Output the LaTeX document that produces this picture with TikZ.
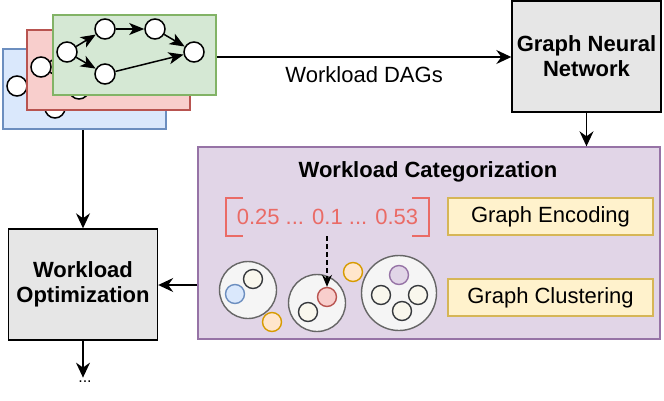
\documentclass[tikz,border=0pt]{standalone}
\usepackage{fontspec}
\setmainfont{Liberation Sans}
\usetikzlibrary{arrows.meta,calc}
\definecolor{bfill}{HTML}{DAE8FC}\definecolor{bline}{HTML}{6C8EBF}
\definecolor{rfill}{HTML}{F8CECC}\definecolor{rline}{HTML}{B85450}
\definecolor{gfill}{HTML}{D5E8D4}\definecolor{gline}{HTML}{82B366}
\definecolor{pfill}{HTML}{E1D5E7}\definecolor{pline}{HTML}{9673A6}
\definecolor{yfill}{HTML}{FFF2CC}\definecolor{yline}{HTML}{D6B656}
\definecolor{cfill}{HTML}{F5F5F5}\definecolor{cline}{HTML}{666666}
\definecolor{dfill}{HTML}{F9F7ED}\definecolor{dline}{HTML}{36393D}
\definecolor{ofill}{HTML}{FFE6CC}\definecolor{oline}{HTML}{D79B00}
\definecolor{vecred}{HTML}{EA6B66}
\definecolor{boxgray}{HTML}{E6E6E6}
\tikzset{
  big/.style={font=\fontsize{22}{25}\selectfont},
  gnode/.style={circle,draw=black,fill=white,line width=1.5pt,minimum size=20pt,inner sep=0pt},
  garrow/.style={line width=1.5pt,-{Stealth[length=15pt,width=12pt,inset=4pt]}},
  arr/.style={line width=1.4pt,-{Stealth[length=15pt,width=14pt,inset=5pt]}},
  graybox/.style={draw=black,fill=boxgray,line width=1.4pt,align=center,big,font=\fontsize{22}{25}\selectfont\bfseries},
  ybox/.style={draw=yline,fill=yfill,line width=1.4pt,big,minimum width=205pt,minimum height=37pt,inner sep=0pt},
  cluster/.style={circle,draw=cline,fill=cfill,line width=1.4pt,inner sep=0pt},
  dot/.style={circle,line width=1.4pt,minimum size=19pt,inner sep=0pt},
  ddot/.style={dot,draw=dline,fill=dfill},
}
\newcommand\dagcopy[5]{%
  \begin{scope}[shift={(#2,#3)}]
    \node[draw=#5,fill=#4,line width=2pt,minimum width=163pt,minimum height=80pt,inner sep=0pt,anchor=north west] (#1box) at (52,14) {};
    \node[gnode] (#1A) at (67,52) {};
    \node[gnode] (#1B) at (105,29) {};
    \node[gnode] (#1C) at (155,29) {};
    \node[gnode] (#1D) at (194,52) {};
    \node[gnode] (#1E) at (105,74) {};
    \draw[garrow] (#1A) -- (#1B);
    \draw[garrow] (#1B) -- (#1C);
    \draw[garrow] (#1C) -- (#1D);
    \draw[garrow] (#1A) -- (#1E);
    \draw[garrow] (#1E) -- (#1D);
  \end{scope}}
\begin{document}
\begin{tikzpicture}[x=1pt,y=-1pt]
\useasboundingbox (0,0) rectangle (664,400);
% stacked DAGs
\dagcopy{b}{-50}{34}{bfill}{bline}
\dagcopy{r}{-26}{15}{rfill}{rline}
\dagcopy{g}{0}{0}{gfill}{gline}
% GNN
\node[graybox,minimum width=149pt,minimum height=111pt,inner sep=0pt] (gnn) at (586.5,56.5) {Graph Neural\\Network};
\draw[arr] (gbox.east |- 0,57) -- (gnn.west |- 0,57) node[midway,below=6pt,big] (dags) {Workload DAGs};
% Categorization box
\node[draw=pline,fill=pfill,line width=1.4pt,minimum width=462pt,minimum height=192pt,inner sep=0pt] (cat) at (429,243) {};
\node[big,font=\fontsize{22}{25}\selectfont\bfseries] (cattitle) at (428,172) {Workload Categorization};
\draw[arr] (gnn.south) -- (gnn.south |- cat.north);
% vector
\node[big,text=vecred,minimum width=203pt,minimum height=38pt,inner sep=0pt] (vec) at (327.5,217) {0.25 ... 0.1 ... 0.53};
\draw[vecred,line width=1.5pt] ($(vec.north west)+(17,0)$) -- (vec.north west) -- (vec.south west) -- ++(17,0);
\draw[vecred,line width=1.5pt] ($(vec.north east)+(-17,0)$) -- (vec.north east) -- (vec.south east) -- ++(-17,0);
\node[ybox] (enc) at (550.5,216.5) {Graph Encoding};
\node[ybox] (clu) at (550.5,297.5) {Graph Clustering};
% clusters
\node[cluster,minimum size=57pt] (c1) at (248,290) {};
\node[dot,draw=bline,fill=bfill] (c1b) at (235,294) {};
\node[ddot] (c1d) at (253,279) {};
\node[dot,draw=oline,fill=ofill] (o1) at (272,322) {};
\node[cluster,minimum size=57pt] (c2) at (317,303) {};
\node[dot,draw=rline,fill=rfill] (c2r) at (327,297) {};
\node[ddot] (c2d) at (308,312) {};
\node[dot,draw=oline,fill=ofill] (o2) at (353,272) {};
\node[cluster,minimum size=75pt] (c3) at (399,293) {};
\node[dot,draw=pline,fill=pfill] (c3p) at (399,275) {};
\node[ddot] (c3a) at (381,295) {};
\node[ddot] (c3b) at (418,295) {};
\node[ddot] (c3c) at (402,311) {};
\draw[line width=1.4pt,dash pattern=on 5pt off 3pt,-{Stealth[length=12pt,width=10pt,inset=4pt]}] (vec.south -| c2r) -- (c2r);
% optimization
\node[graybox,minimum width=149pt,minimum height=111pt,inner sep=0pt] (opt) at (83,284.5) {Workload\\Optimization};
\draw[arr] (bbox.south -| opt) -- (opt.north);
\draw[arr] (cat.west |- 0,285) -- (opt.east |- 0,285);
\node[font=\fontsize{16}{18}\selectfont] (dots) at (85,382) {...};
\draw[arr] (opt.south) -- (dots.north -| opt);
\end{tikzpicture}
\end{document}
